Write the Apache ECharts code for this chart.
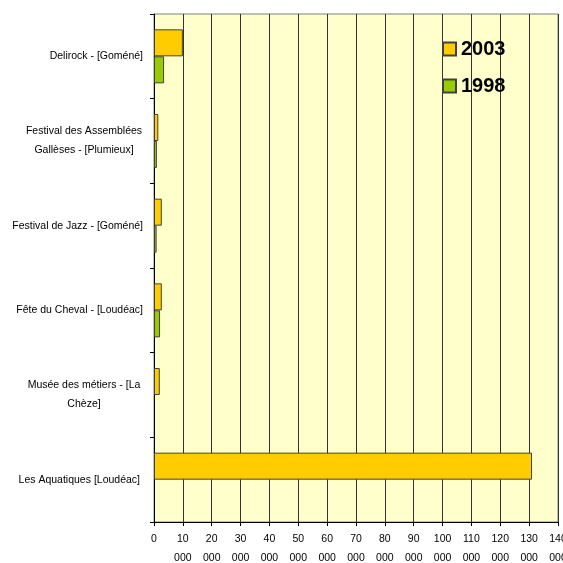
<!DOCTYPE html>
<html>
<head>
<meta charset="utf-8">
<script src="https://cdn.jsdelivr.net/npm/echarts@6/dist/echarts.min.js"></script>
<style>html,body{margin:0;padding:0;background:#fff;}#c{width:563px;height:563px;}</style>
</head>
<body>
<div id="c"></div>
<script>
const categories = [
  "Delirock - [Goméné]",
  "Festival des Assemblées Gallèses - [Plumieux]",
  "Festival de Jazz - [Goméné]",
  "Fête du Cheval - [Loudéac]",
  "Musée des métiers - [La Chèze]",
  "Les Aquatiques [Loudéac]"
];
const categoryLines = {
  "Festival des Assemblées Gallèses - [Plumieux]": ["Festival des Assemblées", "Gallèses - [Plumieux]"],
  "Musée des métiers - [La Chèze]": ["Musée des métiers - [La", "Chèze]"]
};
const values2003 = [10000, 1500, 2700, 2700, 2000, 131000];
const values1998 = [3500, 1000, 900, 2100, null, null];
const seriesNames = ["2003", "1998"];
const xTicks = {min: 0, max: 140000, interval: 10000};

const chart = echarts.init(document.getElementById('c'));
const font = 'Liberation Sans, Arial, sans-serif';
chart.setOption({
  animation: false,
  backgroundColor: '#ffffff',
  textStyle: {fontFamily: font},
  grid: {left: 154, right: 5, top: 14, bottom: 41, show: true, containLabel: false,
    outerBoundsMode: 'none',
    backgroundColor: '#FFFFCC', borderColor: '#808080', borderWidth: 1},
  legend: {
    orient: 'vertical', left: 442, top: 39, padding: 0,
    itemWidth: 13, itemHeight: 13, itemGap: 17,
    data: seriesNames,
    textStyle: {fontSize: 20, fontWeight: 'bold', color: '#000', fontFamily: font},
    icon: 'rect'
  },
  xAxis: {
    type: 'value', min: xTicks.min, max: xTicks.max, interval: xTicks.interval,
    axisLine: {show: true, lineStyle: {color: '#000', width: 1}},
    axisTick: {show: true, length: 4, lineStyle: {color: '#000'}},
    splitLine: {show: true, lineStyle: {color: '#333', width: 1}},
    axisLabel: {
      color: '#000', fontSize: 10.5, fontFamily: font, lineHeight: 19, margin: 8,
      verticalAlign: 'top', hideOverlap: false,
      formatter: v => v === 0 ? '0' : (v / 1000) + '\n000'
    }
  },
  yAxis: {
    type: 'category', data: categories, inverse: true,
    axisLine: {show: true, lineStyle: {color: '#000', width: 1}},
    axisTick: {show: true, length: 4, lineStyle: {color: '#000'}},
    splitLine: {show: false},
    axisLabel: {
      color: '#000', fontSize: 10.5, fontFamily: font, margin: 11, lineHeight: 19,
      formatter: (v, i) => categoryLines[v] ? categoryLines[v].map(l => '{c|' + l + '}').join('\n')
        : (i === categories.length - 1 ? '{r|' + v + '}' : v),
      rich: {
        c: {width: 118, align: 'center', fontSize: 10.5, lineHeight: 19, color: '#000', fontFamily: font},
        r: {padding: [0, 3, 0, 0], fontSize: 10.5, lineHeight: 19, color: '#000', fontFamily: font}
      }
    }
  },
  series: [
    {name: seriesNames[0], type: 'bar', data: values2003, barWidth: 27, barGap: '0%',
      itemStyle: {color: '#FFCC00', borderColor: '#404040', borderWidth: 1}},
    {name: seriesNames[1], type: 'bar', data: values1998, barWidth: 27, barGap: '0%',
      itemStyle: {color: '#99CC00', borderColor: '#404040', borderWidth: 1}}
  ]
});
</script>
</body>
</html>
